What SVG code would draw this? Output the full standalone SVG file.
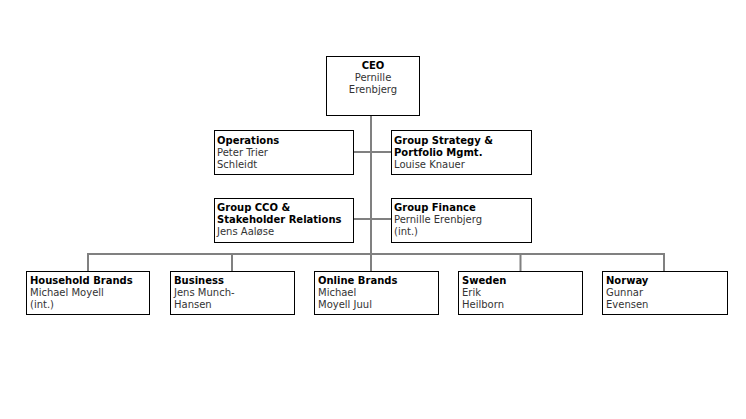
<svg xmlns="http://www.w3.org/2000/svg" width="746" height="419" viewBox="0 0 746 419">
<style>
.box{fill:#fff;stroke:#000;stroke-width:1}
.t{font-family:"DejaVu Sans",Verdana,sans-serif;font-size:10px;fill:#000}
.b{font-weight:bold}
.n{fill:#333}
.c{fill:none;stroke:#808080;stroke-width:2}
</style>
<rect width="746" height="419" fill="#fff"/>
<g id="connectors">
<path class="c" d="M371 115V272"/>
<path class="c" d="M354 152H391.5M354 219H391.5"/>
<path class="c" d="M88 272V254H664V272M232 254V272M520.5 254V272"/>
</g>
<g id="ceo">
<rect class="box" x="326.5" y="56.5" width="93" height="59"/>
<text class="t b" x="373" y="69" text-anchor="middle">CEO</text>
<text class="t n" x="373" y="81" text-anchor="middle">Pernille</text>
<text class="t n" x="373" y="93" text-anchor="middle">Erenbjerg</text>
</g>
<g id="operations">
<rect class="box" x="214.5" y="130.5" width="139" height="44"/>
<text class="t b" x="217" y="144">Operations</text>
<text class="t n" x="217" y="156">Peter Trier</text>
<text class="t n" x="217" y="168">Schleidt</text>
</g>
<g id="strategy">
<rect class="box" x="391.5" y="130.5" width="140" height="44"/>
<text class="t b" x="394" y="144">Group Strategy &amp;</text>
<text class="t b" x="394" y="156">Portfolio Mgmt.</text>
<text class="t n" x="394" y="168">Louise Knauer</text>
</g>
<g id="cco">
<rect class="box" x="214.5" y="198.5" width="139" height="44"/>
<text class="t b" x="217" y="211">Group CCO &amp;</text>
<text class="t b" x="217" y="223">Stakeholder Relations</text>
<text class="t n" x="217" y="235">Jens Aaløse</text>
</g>
<g id="finance">
<rect class="box" x="391.5" y="198.5" width="140" height="44"/>
<text class="t b" x="394" y="211">Group Finance</text>
<text class="t n" x="394" y="223">Pernille Erenbjerg</text>
<text class="t n" x="394" y="235">(int.)</text>
</g>
<g id="household">
<rect class="box" x="26.5" y="271.5" width="123" height="43"/>
<text class="t b" x="30" y="284">Household Brands</text>
<text class="t n" x="30" y="296">Michael Moyell</text>
<text class="t n" x="30" y="308">(int.)</text>
</g>
<g id="business">
<rect class="box" x="170.5" y="271.5" width="124" height="43"/>
<text class="t b" x="174" y="284">Business</text>
<text class="t n" x="174" y="296">Jens Munch-</text>
<text class="t n" x="174" y="308">Hansen</text>
</g>
<g id="online">
<rect class="box" x="314.5" y="271.5" width="124" height="43"/>
<text class="t b" x="318" y="284">Online Brands</text>
<text class="t n" x="318" y="296">Michael</text>
<text class="t n" x="318" y="308">Moyell Juul</text>
</g>
<g id="sweden">
<rect class="box" x="458.5" y="271.5" width="124" height="43"/>
<text class="t b" x="462" y="284">Sweden</text>
<text class="t n" x="462" y="296">Erik</text>
<text class="t n" x="462" y="308">Heilborn</text>
</g>
<g id="norway">
<rect class="box" x="602.5" y="271.5" width="125" height="43"/>
<text class="t b" x="606" y="284">Norway</text>
<text class="t n" x="606" y="296">Gunnar</text>
<text class="t n" x="606" y="308">Evensen</text>
</g>
</svg>
